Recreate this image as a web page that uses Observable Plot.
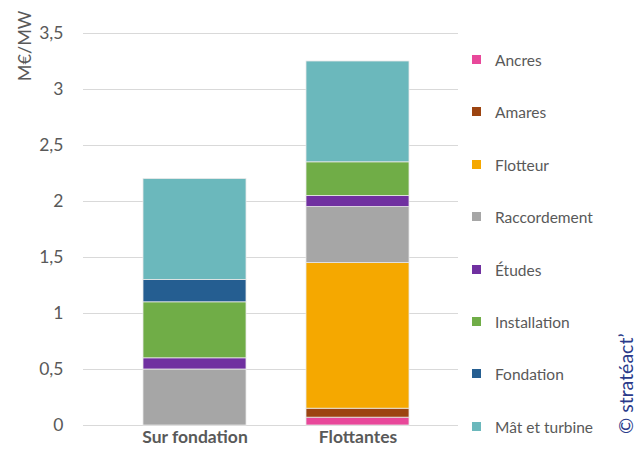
<!DOCTYPE html>
<html>
<head>
<meta charset="utf-8">
<script src="https://cdn.jsdelivr.net/npm/d3@7"></script>
<script src="https://cdn.jsdelivr.net/npm/@observablehq/plot@0.6"></script>
<style>
  html, body { margin: 0; padding: 0; background: #fff; }
  #wrap { position: relative; width: 637px; height: 453px; font-family: Lato, "Open Sans", sans-serif; }
  #wrap svg { position: absolute; left: 0; top: 0; }
  .leg { position: absolute; left: 472px; font-size: 15.5px; color: #595959; white-space: nowrap; }
  .leg .sw { position: absolute; left: 0; top: -5px; width: 9px; height: 9px; }
  .leg .lb { position: absolute; left: 23px; top: -10px; line-height: 20px; }
  #copy { position: absolute; left: 617px; top: 434px; transform-origin: 0 0; transform: rotate(-90deg); font-size: 19.5px; color: #2a3a8a; white-space: nowrap; line-height: 18px; height: 18px; }
</style>
</head>
<body>
<div id="wrap"></div>
<script>
const categories = ["Sur fondation", "Flottantes"];
const parts = ["Ancres", "Amares", "Flotteur", "Raccordement", "Études", "Installation", "Fondation", "Mât et turbine"];
const colors = ["#e8489a", "#9c4410", "#f5a800", "#a6a6a6", "#7030a0", "#70ad47", "#255e91", "#6bb8bc"];
const surFondation = [0, 0, 0, 0.5, 0.1, 0.5, 0.2, 0.9];
const flottantes = [0.07, 0.08, 1.3, 0.5, 0.1, 0.3, 0, 0.9];
const yTicks = [0, 0.5, 1, 1.5, 2, 2.5, 3, 3.5];

const series = [surFondation, flottantes];
const data = [];
categories.forEach((c, i) => parts.forEach((p, j) => {
  if (series[i][j] > 0) data.push({cat: c, part: p, value: series[i][j]});
}));

const fmt = d => String(d).replace(".", ",");

const chart = Plot.plot({
  width: 637,
  height: 453,
  marginLeft: 83,
  marginRight: 179,
  marginTop: 33,
  marginBottom: 28,
  style: {fontFamily: "Lato, 'Open Sans', sans-serif", color: "#595959", background: "transparent"},
  x: {domain: categories, paddingInner: 0.37, paddingOuter: 0.332, align: 0.553},
  y: {domain: [0, 3.5]},
  color: {domain: parts, range: colors},
  marks: [
    Plot.gridY(yTicks, {stroke: "#d9d9d9", strokeOpacity: 1, strokeWidth: 1}),
    Plot.barY(data, {x: "cat", y: "value", fill: "part", order: parts, stroke: "#e8e8e8", strokeWidth: 0.8}),
    Plot.axisY(yTicks, {tickSize: 0, tickPadding: 20, tickFormat: fmt, fontSize: 17.5, fill: "#595959", label: null}),
    Plot.axisX({tickSize: 0, tickPadding: 5, fontSize: 17.5, fontWeight: "bold", fill: "#595959", label: null}),
    Plot.text(["M€/MW"], {frameAnchor: "top-left", rotate: -90, textAnchor: "end", dx: -65, dy: -23, fontSize: 18, fill: "#595959"})
  ]
});
const wrap = document.getElementById("wrap");
wrap.appendChild(chart);

parts.forEach((p, i) => {
  const d = document.createElement("div");
  d.className = "leg";
  d.style.top = (60 + i * 52.4) + "px";
  d.innerHTML = `<span class="sw" style="background:${colors[i]}"></span><span class="lb">${p}</span>`;
  wrap.appendChild(d);
});
const c = document.createElement("div");
c.id = "copy";
c.textContent = "© stratéact’";
wrap.appendChild(c);
</script>
</body>
</html>
